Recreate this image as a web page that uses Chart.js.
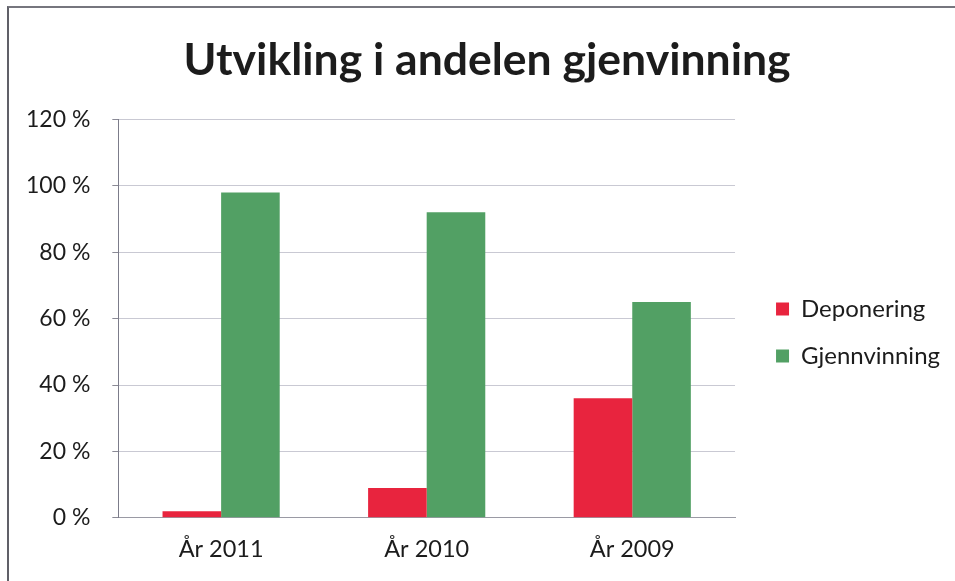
<!DOCTYPE html>
<html>
<head>
<meta charset="utf-8">
<script src="https://cdn.jsdelivr.net/npm/chart.js@4"></script>
<style>
    body { margin: 0; background: #fff; }
    #wrap { position: relative; width: 955px; height: 581px; overflow: hidden; }
    #frame {
        position: absolute; left: 7px; top: 6px; width: 960px; height: 590px;
        border-left: 2px solid #606068; border-top: 2px solid #76767e;
    }
    canvas { position: absolute; left: 0; top: 0; }
</style>
</head>
<body>
<div id="wrap">
    <div id="frame"></div>
    <canvas id="chart" width="955" height="581"></canvas>
</div>
<script>
const titleText = 'Utvikling i andelen gjenvinning';
const years = ['År 2011', 'År 2010', 'År 2009'];
const deponering = [2, 9, 36];
const gjenvinning = [98, 92, 65];
const yTicks = [0, 20, 40, 60, 80, 100, 120];

const fontName = 'Lato, "Open Sans", sans-serif';

// nudge title and legend boxes after layout so they sit like the original
const boxShift = {
    id: 'boxShift',
    afterLayout(chart) {
        const lg = chart.legend;
        lg.left += 18;
        lg.right += 18;
        lg.top += 42;
        lg.bottom += 42;
        const t = chart.titleBlock;
        t.left += 19;
        t.right += 19;
    }
};

const ctx = document.getElementById('chart').getContext('2d');
const chart = new Chart(ctx, {
    type: 'bar',
    data: {
        labels: years,
        datasets: [{
            label: 'Deponering',
            data: deponering,
            backgroundColor: '#e8243e',
            borderWidth: 0
        }, {
            label: 'Gjennvinning',
            data: gjenvinning,
            backgroundColor: '#52a064',
            borderWidth: 0
        }]
    },
    options: {
        responsive: false,
        animation: false,
        datasets: {
            bar: {
                categoryPercentage: 0.57,
                barPercentage: 1.0
            }
        },
        layout: {
            padding: { left: 4, right: 23, top: 0, bottom: 0 }
        },
        plugins: {
            title: {
                display: true,
                text: titleText,
                color: '#1c1c1c',
                font: { family: fontName, size: 44.5, weight: 'bold' },
                padding: { top: 34, bottom: 32 }
            },
            legend: {
                position: 'right',
                labels: {
                    color: '#1c1c1c',
                    font: { family: fontName, size: 24 },
                    boxWidth: 13,
                    boxHeight: 13,
                    padding: 23
                }
            },
            tooltip: { enabled: false }
        },
        scales: {
            x: {
                grid: { display: false, drawTicks: false },
                border: { display: true, color: '#9a9aa4' },
                ticks: {
                    color: '#1c1c1c',
                    font: { family: fontName, size: 23.5 },
                    padding: 17.5
                }
            },
            y: {
                min: 0,
                max: 120,
                afterBuildTicks: axis => {
                    axis.ticks = yTicks.map(v => ({ value: v }));
                },
                grid: {
                    color: '#c9c9d3',
                    tickColor: '#8a8a96',
                    tickLength: 6
                },
                border: { display: true, color: '#7c7c8a' },
                ticks: {
                    color: '#1c1c1c',
                    font: { family: fontName, size: 23 },
                    padding: 22,
                    callback: v => v + ' %'
                }
            }
        }
    },
    plugins: [boxShift]
});
</script>
</body>
</html>
